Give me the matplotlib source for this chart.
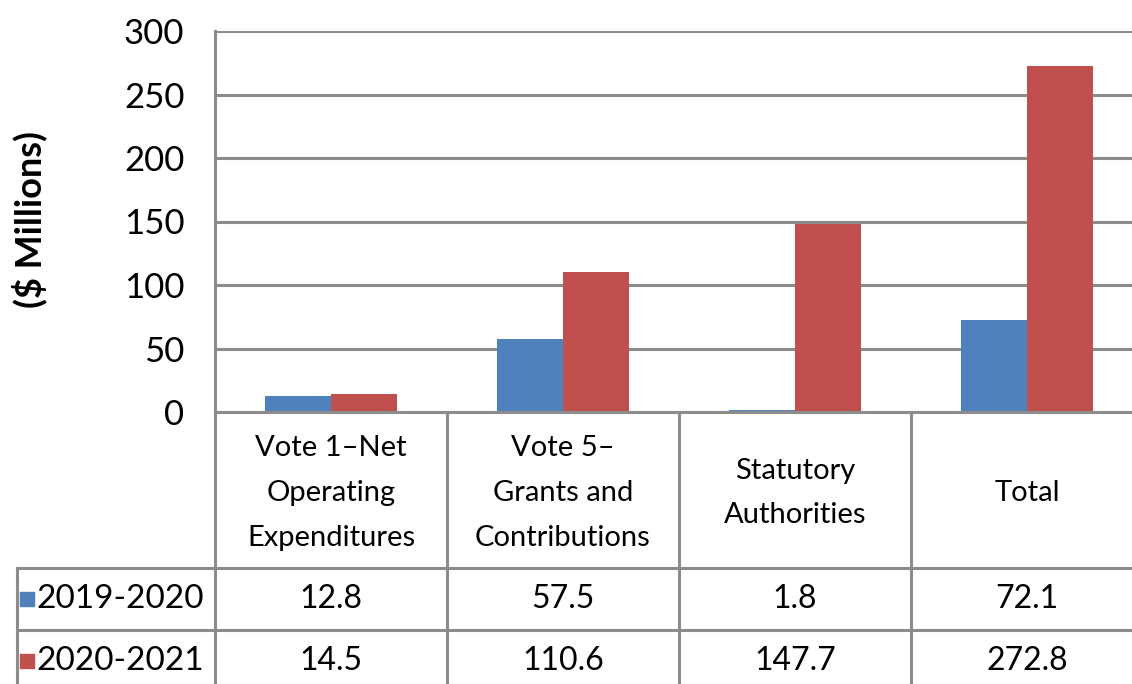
import numpy as np
import matplotlib.pyplot as plt

plt.rcParams['font.family'] = ['Lato', 'DejaVu Sans']

categories = ["Vote 1\u2013Net\nOperating\nExpenditures",
              "Vote 5\u2013\nGrants and\nContributions",
              "Statutory\nAuthorities",
              "Total"]
series_names = ["2019-2020", "2020-2021"]
values_2019 = [12.8, 57.5, 1.8, 72.1]
values_2020 = [14.5, 110.6, 147.7, 272.8]
yticks = [0, 50, 100, 150, 200, 250, 300]

colors = ["#4F81BD", "#C0504D"]
line_c = "#8c8c8c"

W, H = 1132, 684
fig = plt.figure(figsize=(W / 100, H / 100), dpi=100)

# pixel layout of the chart (Excel style, right edge runs off the image)
x0, x1 = 215, 1143      # plot area left/right
y_top, y_zero = 31, 412  # value 300 / value 0
unit = (x1 - x0) / 4     # pixels per category

ax = fig.add_axes([x0 / W, (H - y_zero) / H, (x1 - x0) / W, (y_zero - y_top) / H])
x = np.arange(len(categories))
w = 1 / 3.5
ax.bar(x - w / 2, values_2019, w, color=colors[0], zorder=3)
ax.bar(x + w / 2, values_2020, w, color=colors[1], zorder=3)
ax.set_xlim(-0.5, 3.5)
ax.set_ylim(0, 300)
ax.set_yticks(yticks)
ax.set_xticks([])
ax.tick_params(axis='y', length=0, pad=22, labelsize=25)
ax.yaxis.grid(True, color=line_c, linewidth=2.2, zorder=0)
for s in ['top', 'right']:
    ax.spines[s].set_visible(False)
for s in ['left', 'bottom']:
    ax.spines[s].set_color(line_c)
    ax.spines[s].set_linewidth(2.2)
ax.spines['bottom'].set_zorder(4)
fig.text(29 / W, 1 - 220 / H, "($ Millions)", rotation=90, ha='center', va='center',
         fontsize=26, fontweight='bold')

# data table below the plot
tl = 17
t_bottom = 692
axt = fig.add_axes([tl / W, (H - t_bottom) / H, (x1 - tl) / W, (t_bottom - y_zero) / H])
axt.set_xlim(-0.5 - (x0 - tl) / unit, 3.5)
axt.set_ylim(t_bottom - y_zero, 0)
axt.axis('off')
head_h = 156
row_h = 62
xl = -0.5 - (x0 - tl) / unit
lw = 2.2
for b in [-0.5, 0.5, 1.5, 2.5]:
    axt.plot([b, b], [0, 400], color=line_c, lw=lw, clip_on=False)
axt.plot([xl, xl], [head_h, 400], color=line_c, lw=lw, clip_on=False)
for r in range(2):
    yy = head_h + r * row_h
    axt.plot([xl, 3.6], [yy, yy], color=line_c, lw=lw, clip_on=False)

for i, cat in enumerate(categories):
    axt.text(i, head_h / 2 + 3, cat, ha='center', va='center', fontsize=21,
             linespacing=1.9)

for r, (name, vals) in enumerate(zip(series_names, [values_2019, values_2020])):
    yc = head_h + r * row_h + row_h / 2
    axt.text(xl + 0.082, yc, name, ha='left', va='center', fontsize=24)
    axt.scatter([xl + 0.042], [yc], marker='s', s=110, color=colors[r], clip_on=False)
    for i, v in enumerate(vals):
        axt.text(i, yc, f"{v:.1f}", ha='center', va='center', fontsize=23)

fig.savefig("out.png", dpi=100)
